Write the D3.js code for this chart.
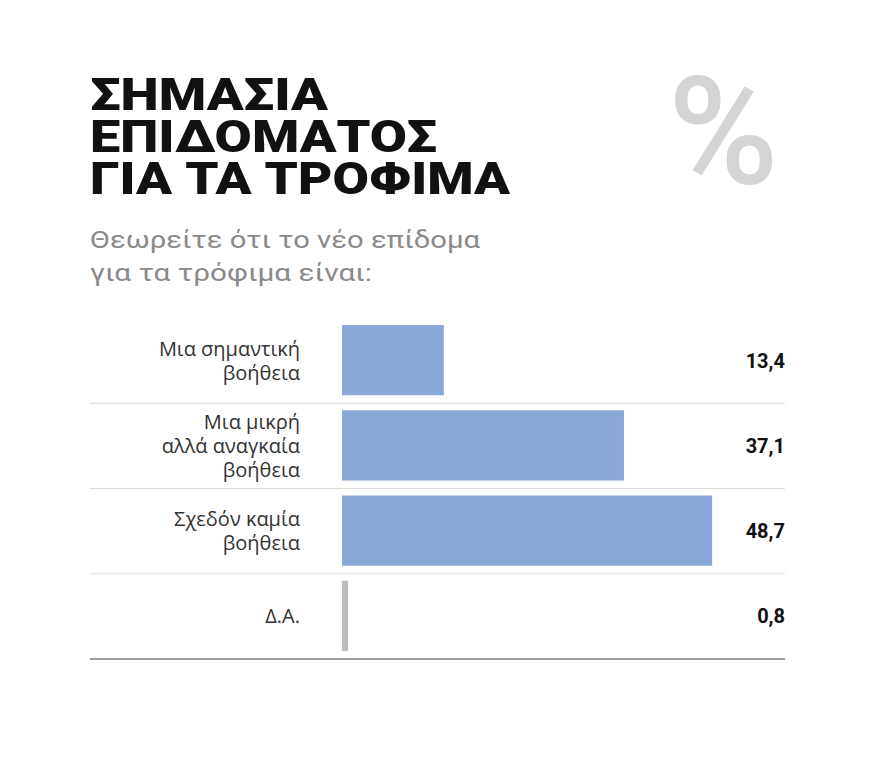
<!DOCTYPE html><html><head><meta charset="utf-8">
<script src="https://cdn.jsdelivr.net/npm/d3@7"></script>
<style>body{margin:0;background:#fff}</style></head><body>
<svg id="c" width="880" height="779"></svg>
<script>
const categories = [["Μια σημαντική","βοήθεια"],["Μια μικρή","αλλά αναγκαία","βοήθεια"],["Σχεδόν καμία","βοήθεια"],["Δ.Α."]];
const values = [13.4, 37.1, 48.7, 0.8];
const valueLabels = ["13,4","37,1","48,7","0,8"];
const barColors = ["#8aa8d8","#8aa8d8","#8aa8d8","#bdbdbd"];

const svg = d3.select("#c");
const font = "Roboto, 'Noto Sans', sans-serif";
const title = ["ΣΗΜΑΣΙΑ","ΕΠΙΔΟΜΑΤΟΣ","ΓΙΑ ΤΑ ΤΡΟΦΙΜΑ"];
const titleW = [238, 347, 420];
title.forEach((t,i)=>svg.append("text").attr("x",90).attr("y",110+i*42).text(t)
  .attr("font-family",font).attr("font-weight",900).attr("font-size",44).attr("fill","#111")
  .attr("textLength",titleW[i]).attr("lengthAdjust","spacingAndGlyphs"));
svg.append("text").attr("x",668).attr("y",183).text("%").attr("font-family",font)
  .attr("font-size",150).attr("font-weight",500).attr("fill","#d4d4d4");
const subW=[390,282];
["Θεωρείτε ότι το νέο επίδομα","για τα τρόφιμα είναι:"].forEach((t,i)=>
  svg.append("text").attr("x",90).attr("y",248+i*33).text(t).attr("font-family",font)
   .attr("font-size",23).attr("fill","#8a8a8a").attr("textLength",subW[i]).attr("lengthAdjust","spacingAndGlyphs"));

const y = d3.scaleBand().domain(d3.range(values.length)).range([318,659]).paddingInner(0).paddingOuter(0);
const x = d3.scaleLinear().domain([0,50]).range([342,722]);
const g = svg.append("g");
values.forEach((v,i)=>{
  const y0=y(i), h=y.bandwidth();
  g.append("rect").attr("x",x(0)).attr("y",y0+7).attr("width",Math.max(x(v)-x(0),i==3?4:0)).attr("height",h-15).attr("fill",barColors[i]);
  const lines=categories[i], lh=24, start=y0+h/2-(lines.length-1)*lh/2+7;
  lines.forEach((l,j)=>g.append("text").attr("x",300).attr("y",start+j*lh).attr("text-anchor","end")
    .text(l).attr("font-family","'Open Sans', sans-serif").attr("font-size",20).attr("fill","#333"));
  g.append("text").attr("x",785).attr("y",y0+h/2+7).attr("text-anchor","end").text(valueLabels[i])
    .attr("font-family",font).attr("font-size",20).attr("font-weight",700).attr("fill","#111");
  g.append("line").attr("x1",90).attr("x2",785).attr("y1",y0+h).attr("y2",y0+h)
    .attr("stroke",i==3?"#9a9a9a":"#dcdcdc").attr("stroke-width",i==3?2:1);
});
</script></body></html>
